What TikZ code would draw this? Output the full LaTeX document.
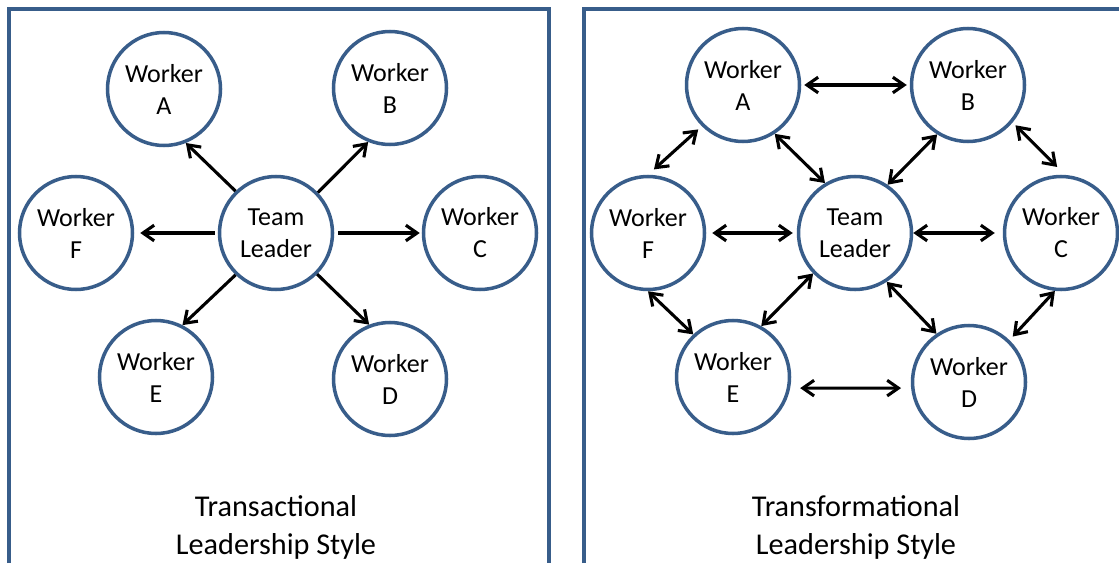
\documentclass[tikz,border=0pt]{standalone}
\usepackage{fontspec}
\setmainfont{Carlito}
\usepackage{tikz}
\usetikzlibrary{arrows.meta}
\definecolor{panelblue}{HTML}{385D8A}
\tikzset{
    panel/.style={panelblue,line width=2.8pt},
    worker/.style={circle,draw=panelblue,line width=2.5pt,minimum size=2.825cm,inner sep=0pt,align=center,font=\fontsize{18.5}{22.8}\selectfont},
    arr/.style={-{Straight Barb[length=2.8mm,width=3.9mm]},line width=2.2pt},
    darr/.style={{Straight Barb[length=2.8mm,width=3.9mm]}-{Straight Barb[length=2.8mm,width=3.9mm]},line width=2.2pt},
    caption/.style={align=center,font=\fontsize{21.5}{27}\selectfont},
}

\begin{document}
\begin{tikzpicture}
    \useasboundingbox (0,0) rectangle (27.975,14.075);
    % panels
    \draw[panel] (0.225,0) -- (0.225,13.85) -- (13.725,13.85) -- (13.725,0);
    \draw[panel] (14.6,0) -- (14.6,13.85) -- (28.2,13.85);

    % transactional
    \node[worker] (lTL) at (6.9,8.25) {Team\\Leader};
    \node[worker] (lA) at (4.1,11.85) {Worker\\A};
    \node[worker] (lB) at (9.75,11.875) {Worker\\B};
    \node[worker] (lC) at (12,8.25) {Worker\\C};
    \node[worker] (lD) at (9.75,4.6) {Worker\\D};
    \node[worker] (lE) at (3.9,4.65) {Worker\\E};
    \node[worker] (lF) at (1.9,8.25) {Worker\\F};
    \foreach \s/\t in {134/lA.-68,44/lB.-112,-134/lE.63,-45/lD.111}{
        \draw[arr] (lTL.\s) -- (\t);
    }
    \draw[arr,shorten <=.1cm,shorten >=.05cm] (lTL.east) -- (lC.west);
    \draw[arr,shorten <=.075cm,shorten >=.15cm] (lTL.west) -- (lF.east);

    % transformational
    \node[worker] (rTL) at (21.375,8.25) {Team\\Leader};
    \node[worker] (rA) at (18.575,11.95) {Worker\\A};
    \node[worker] (rB) at (24.2,11.95) {Worker\\B};
    \node[worker] (rC) at (26.525,8.25) {Worker\\C};
    \node[worker] (rD) at (24.225,4.525) {Worker\\D};
    \node[worker] (rE) at (18.325,4.65) {Worker\\E};
    \node[worker] (rF) at (16.2,8.25) {Worker\\F};
    \foreach \s/\t in {rA.-57/rTL.121,rB.-122/rTL.56,rF.-90/rE.133,rTL.-136/rE.61,rTL.-57/rD.124}{
        \draw[darr] (\s) -- (\t);
    }
    \draw[darr,shorten <=.075cm,shorten >=.075cm] (rA.east) -- (rB.west);
    \draw[darr,shorten <=.12cm,shorten >=.2cm] (rA.-135) -- (rF.90);
    \draw[darr,shorten <=.1cm,shorten >=.28cm] (rB.-40) -- (rC.86);
    \draw[darr,shorten <=.15cm,shorten >=.1cm] (rF.east) -- (rTL.west);
    \draw[darr,shorten >=.2cm] (rTL.east) -- (rC.west);
    \draw[darr,shorten >=.12cm] (rC.-96) -- (rD.46);
    \draw[darr,shorten <=.25cm,shorten >=.25cm] (rE.-11) -- (rD.186);

    \node[caption] (lcap) at (6.9,0.9) {Transactional\\Leadership Style};
    \node[caption] (rcap) at (21.4,0.9) {Transformational\\Leadership Style};
\end{tikzpicture}
\end{document}
